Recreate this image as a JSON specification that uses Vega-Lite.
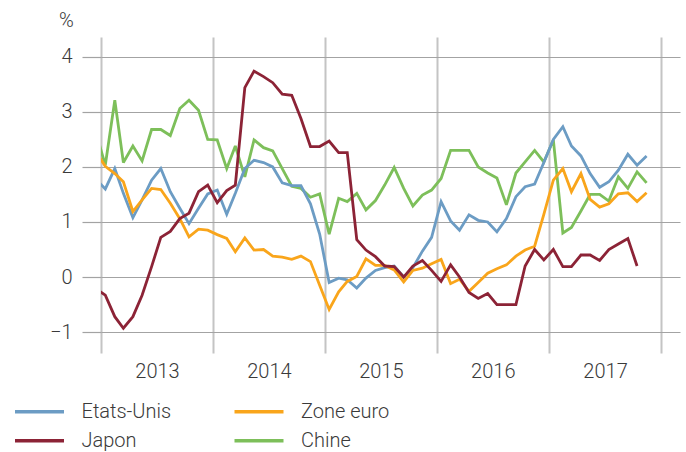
{
  "$schema": "https://vega.github.io/schema/vega-lite/v6.json",
  "width": 579,
  "height": 316,
  "autosize": {"type": "none"},
  "padding": {"left": 101, "top": 37, "right": 6, "bottom": 99},
  "background": "white",
  "config": {"view": {"stroke": null}, "font": "Roboto"},
  "data": {"values": [
    {"m": "2012-12-15", "Etats-Unis": 1.78, "Zone euro": 2.28, "Japon": -0.21, "Chine": 2.64},
    {"m": "2013-01-15", "Etats-Unis": 1.60, "Zone euro": 2.01, "Japon": -0.33, "Chine": 2.03},
    {"m": "2013-02-15", "Etats-Unis": 1.97, "Zone euro": 1.88, "Japon": -0.72, "Chine": 3.21},
    {"m": "2013-03-15", "Etats-Unis": 1.52, "Zone euro": 1.73, "Japon": -0.93, "Chine": 2.08},
    {"m": "2013-04-15", "Etats-Unis": 1.08, "Zone euro": 1.19, "Japon": -0.72, "Chine": 2.38},
    {"m": "2013-05-15", "Etats-Unis": 1.40, "Zone euro": 1.40, "Japon": -0.33, "Chine": 2.11},
    {"m": "2013-06-15", "Etats-Unis": 1.76, "Zone euro": 1.61, "Japon": 0.19, "Chine": 2.68},
    {"m": "2013-07-15", "Etats-Unis": 1.97, "Zone euro": 1.59, "Japon": 0.72, "Chine": 2.68},
    {"m": "2013-08-15", "Etats-Unis": 1.55, "Zone euro": 1.34, "Japon": 0.83, "Chine": 2.57},
    {"m": "2013-09-15", "Etats-Unis": 1.25, "Zone euro": 1.06, "Japon": 1.06, "Chine": 3.06},
    {"m": "2013-10-15", "Etats-Unis": 0.97, "Zone euro": 0.73, "Japon": 1.16, "Chine": 3.21},
    {"m": "2013-11-15", "Etats-Unis": 1.25, "Zone euro": 0.87, "Japon": 1.55, "Chine": 3.03},
    {"m": "2013-12-15", "Etats-Unis": 1.51, "Zone euro": 0.85, "Japon": 1.67, "Chine": 2.50},
    {"m": "2014-01-15", "Etats-Unis": 1.58, "Zone euro": 0.77, "Japon": 1.35, "Chine": 2.49},
    {"m": "2014-02-15", "Etats-Unis": 1.14, "Zone euro": 0.70, "Japon": 1.57, "Chine": 1.97},
    {"m": "2014-03-15", "Etats-Unis": 1.52, "Zone euro": 0.46, "Japon": 1.67, "Chine": 2.38},
    {"m": "2014-04-15", "Etats-Unis": 1.97, "Zone euro": 0.71, "Japon": 3.44, "Chine": 1.82},
    {"m": "2014-05-15", "Etats-Unis": 2.12, "Zone euro": 0.49, "Japon": 3.74, "Chine": 2.49},
    {"m": "2014-06-15", "Etats-Unis": 2.08, "Zone euro": 0.50, "Japon": 3.64, "Chine": 2.35},
    {"m": "2014-07-15", "Etats-Unis": 2.00, "Zone euro": 0.38, "Japon": 3.53, "Chine": 2.29},
    {"m": "2014-08-15", "Etats-Unis": 1.71, "Zone euro": 0.36, "Japon": 3.32, "Chine": 1.97},
    {"m": "2014-09-15", "Etats-Unis": 1.66, "Zone euro": 0.32, "Japon": 3.30, "Chine": 1.65},
    {"m": "2014-10-15", "Etats-Unis": 1.66, "Zone euro": 0.38, "Japon": 2.88, "Chine": 1.61},
    {"m": "2014-11-15", "Etats-Unis": 1.33, "Zone euro": 0.28, "Japon": 2.37, "Chine": 1.45},
    {"m": "2014-12-15", "Etats-Unis": 0.78, "Zone euro": -0.15, "Japon": 2.37, "Chine": 1.51},
    {"m": "2015-01-15", "Etats-Unis": -0.10, "Zone euro": -0.59, "Japon": 2.47, "Chine": 0.78},
    {"m": "2015-02-15", "Etats-Unis": -0.02, "Zone euro": -0.27, "Japon": 2.26, "Chine": 1.43},
    {"m": "2015-03-15", "Etats-Unis": -0.05, "Zone euro": -0.08, "Japon": 2.26, "Chine": 1.37},
    {"m": "2015-04-15", "Etats-Unis": -0.20, "Zone euro": 0.01, "Japon": 0.68, "Chine": 1.52},
    {"m": "2015-05-15", "Etats-Unis": -0.02, "Zone euro": 0.33, "Japon": 0.49, "Chine": 1.22},
    {"m": "2015-06-15", "Etats-Unis": 0.12, "Zone euro": 0.21, "Japon": 0.37, "Chine": 1.39},
    {"m": "2015-07-15", "Etats-Unis": 0.17, "Zone euro": 0.21, "Japon": 0.20, "Chine": 1.67},
    {"m": "2015-08-15", "Etats-Unis": 0.20, "Zone euro": 0.13, "Japon": 0.19, "Chine": 1.99},
    {"m": "2015-09-15", "Etats-Unis": 0.00, "Zone euro": -0.09, "Japon": 0.00, "Chine": 1.61},
    {"m": "2015-10-15", "Etats-Unis": 0.17, "Zone euro": 0.12, "Japon": 0.20, "Chine": 1.29},
    {"m": "2015-11-15", "Etats-Unis": 0.47, "Zone euro": 0.16, "Japon": 0.30, "Chine": 1.49},
    {"m": "2015-12-15", "Etats-Unis": 0.72, "Zone euro": 0.24, "Japon": 0.12, "Chine": 1.58},
    {"m": "2016-01-15", "Etats-Unis": 1.37, "Zone euro": 0.32, "Japon": -0.08, "Chine": 1.79},
    {"m": "2016-02-15", "Etats-Unis": 1.02, "Zone euro": -0.12, "Japon": 0.22, "Chine": 2.30},
    {"m": "2016-03-15", "Etats-Unis": 0.85, "Zone euro": -0.04, "Japon": 0.00, "Chine": 2.30},
    {"m": "2016-04-15", "Etats-Unis": 1.13, "Zone euro": -0.26, "Japon": -0.28, "Chine": 2.30},
    {"m": "2016-05-15", "Etats-Unis": 1.03, "Zone euro": -0.10, "Japon": -0.39, "Chine": 2.00},
    {"m": "2016-06-15", "Etats-Unis": 1.00, "Zone euro": 0.07, "Japon": -0.30, "Chine": 1.89},
    {"m": "2016-07-15", "Etats-Unis": 0.82, "Zone euro": 0.15, "Japon": -0.50, "Chine": 1.80},
    {"m": "2016-08-15", "Etats-Unis": 1.06, "Zone euro": 0.22, "Japon": -0.50, "Chine": 1.31},
    {"m": "2016-09-15", "Etats-Unis": 1.46, "Zone euro": 0.38, "Japon": -0.50, "Chine": 1.89},
    {"m": "2016-10-15", "Etats-Unis": 1.64, "Zone euro": 0.49, "Japon": 0.20, "Chine": 2.09},
    {"m": "2016-11-15", "Etats-Unis": 1.69, "Zone euro": 0.56, "Japon": 0.50, "Chine": 2.30},
    {"m": "2016-12-15", "Etats-Unis": 2.08, "Zone euro": 1.14, "Japon": 0.31, "Chine": 2.09},
    {"m": "2017-01-15", "Etats-Unis": 2.50, "Zone euro": 1.76, "Japon": 0.50, "Chine": 2.49},
    {"m": "2017-02-15", "Etats-Unis": 2.73, "Zone euro": 1.97, "Japon": 0.19, "Chine": 0.80},
    {"m": "2017-03-15", "Etats-Unis": 2.38, "Zone euro": 1.55, "Japon": 0.19, "Chine": 0.90},
    {"m": "2017-04-15", "Etats-Unis": 2.20, "Zone euro": 1.88, "Japon": 0.40, "Chine": 1.20},
    {"m": "2017-05-15", "Etats-Unis": 1.88, "Zone euro": 1.41, "Japon": 0.40, "Chine": 1.50},
    {"m": "2017-06-15", "Etats-Unis": 1.63, "Zone euro": 1.27, "Japon": 0.30, "Chine": 1.50},
    {"m": "2017-07-15", "Etats-Unis": 1.73, "Zone euro": 1.33, "Japon": 0.50, "Chine": 1.38},
    {"m": "2017-08-15", "Etats-Unis": 1.94, "Zone euro": 1.51, "Japon": 0.60, "Chine": 1.82},
    {"m": "2017-09-15", "Etats-Unis": 2.23, "Zone euro": 1.53, "Japon": 0.70, "Chine": 1.61},
    {"m": "2017-10-15", "Etats-Unis": 2.03, "Zone euro": 1.37, "Japon": 0.20, "Chine": 1.91},
    {"m": "2017-11-15", "Etats-Unis": 2.20, "Zone euro": 1.53, "Japon": null, "Chine": 1.71}
  ]},
  "transform": [
    {"fold": ["Chine", "Etats-Unis", "Zone euro", "Japon"], "as": ["pays", "valeur"]}
  ],
  "mark": {"type": "line", "strokeWidth": 2.8, "clip": true, "strokeJoin": "miter", "strokeMiterLimit": 3},
  "encoding": {
    "x": {
      "field": "m",
      "type": "temporal",
      "scale": {
        "type": "utc",
        "domain": [
          {"year": 2013, "month": 1, "date": 1, "utc": true},
          {"year": 2018, "month": 3, "date": 4, "utc": true}
        ]
      },
      "axis": {
        "title": null,
        "values": [
          {"year": 2013, "month": 1, "date": 1, "utc": true},
          {"year": 2014, "month": 1, "date": 1, "utc": true},
          {"year": 2015, "month": 1, "date": 1, "utc": true},
          {"year": 2016, "month": 1, "date": 1, "utc": true},
          {"year": 2017, "month": 1, "date": 1, "utc": true},
          {"year": 2018, "month": 1, "date": 1, "utc": true}
        ],
        "labelExpr": "utcFormat(datum.value, '%Y') == '2018' ? '' : utcFormat(datum.value, '%Y')",
        "labelOffset": 56,
        "labelFlush": false,
        "labelOverlap": false,
        "labelPadding": 8,
        "labelFontSize": 20,
        "labelFontWeight": 300,
        "labelColor": "#3a3a3a",
        "ticks": false,
        "domain": false,
        "grid": true,
        "gridColor": "#c4c4c4",
        "gridWidth": 2
      }
    },
    "y": {
      "field": "valeur",
      "type": "quantitative",
      "scale": {"domain": [-1.38, 4.36], "nice": false, "zero": false},
      "axis": {
        "title": "%",
        "titleAngle": 0,
        "titleX": -35,
        "titleY": -17,
        "titleAlign": "center",
        "titleBaseline": "middle",
        "titleFontSize": 20,
        "titleFontWeight": 300,
        "titleColor": "#3a3a3a",
        "values": [-1, 0, 1, 2, 3, 4],
        "format": "d",
        "labelExpr": "datum.value < 0 ? '\u2212' + abs(datum.value) : datum.label",
        "labelFontSize": 20,
        "labelFontWeight": 300,
        "labelColor": "#3a3a3a",
        "labelPadding": 10,
        "tickSize": 19,
        "tickColor": "#a3a3a3",
        "tickWidth": 1.2,
        "domain": false,
        "grid": true,
        "gridColor": "#a3a3a3",
        "gridWidth": 1.2
      }
    },
    "color": {
      "field": "pays",
      "type": "nominal",
      "scale": {
        "domain": ["Etats-Unis", "Japon", "Zone euro", "Chine"],
        "range": ["#6c9cc4", "#8c2336", "#f9a51b", "#7dbf5a"]
      },
      "legend": {
        "title": null,
        "orient": "none",
        "legendX": -73.5,
        "legendY": 362.7,
        "columns": 2,
        "columnPadding": 55.5,
        "rowPadding": 7,
        "symbolType": "M-2.45,0H2.45",
        "symbolSize": 400,
        "symbolStrokeWidth": 3.5,
        "symbolOffset": 0,
        "labelOffset": 30,
        "labelFontSize": 20,
        "labelFontWeight": 300,
        "labelColor": "#3a3a3a"
      }
    },
    "order": {"field": "m", "type": "temporal"}
  }
}
